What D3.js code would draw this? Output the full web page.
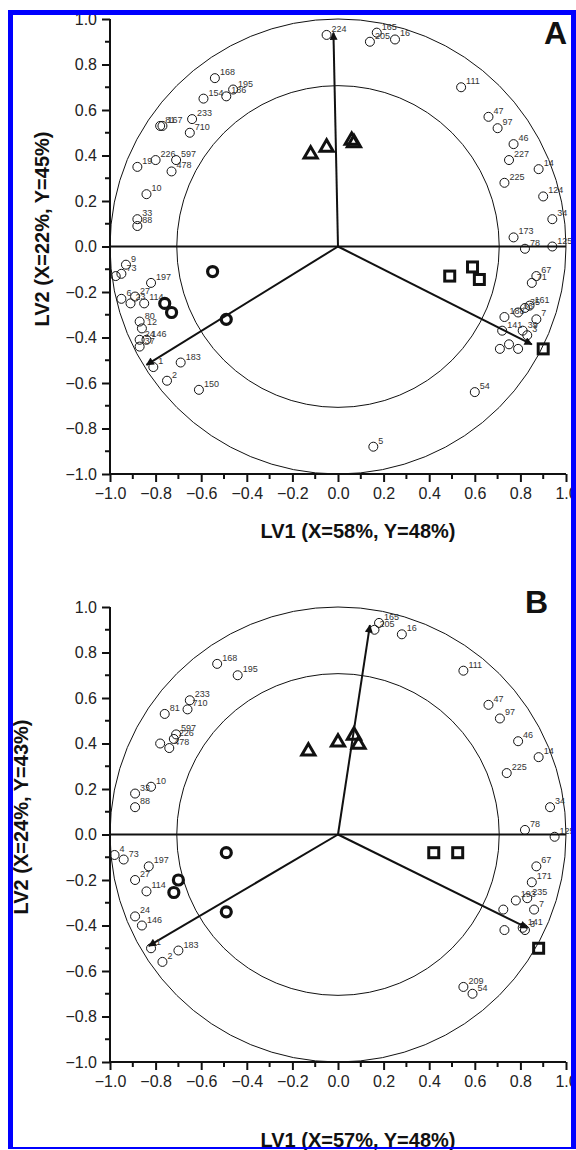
<!DOCTYPE html>
<html>
<head>
<meta charset="utf-8">
<script src="https://cdn.jsdelivr.net/npm/d3@7"></script>
<style>
  body { margin: 0; background: #fff; }
  svg { display: block; font-family: Arial, "Liberation Sans", sans-serif; }
</style>
</head>
<body>
<svg id="chart" width="576" height="1150"></svg>
<script>
// panel A : [label, LV1, LV2]
const openA = [
  ['168', -0.54, 0.74], ['195', -0.46, 0.69], ['186', -0.49, 0.66], ['154', -0.59, 0.65],
  ['81', -0.78, 0.53], ['167', -0.77, 0.53], ['233', -0.64, 0.56], ['710', -0.65, 0.50],
  ['19', -0.88, 0.35], ['226', -0.80, 0.38], ['597', -0.71, 0.38], ['478', -0.73, 0.33],
  ['10', -0.84, 0.23], ['33', -0.88, 0.12], ['88', -0.88, 0.09],
  ['224', -0.05, 0.93], ['165', 0.17, 0.94], ['205', 0.14, 0.90], ['16', 0.25, 0.91],
  ['111', 0.54, 0.70], ['47', 0.66, 0.57], ['97', 0.70, 0.52], ['46', 0.77, 0.45],
  ['227', 0.75, 0.38], ['14', 0.88, 0.34], ['225', 0.73, 0.28], ['124', 0.90, 0.22],
  ['34', 0.94, 0.12], ['173', 0.77, 0.04], ['78', 0.82, -0.01], ['125', 0.94, 0.00],
  ['9', -0.93, -0.08], ['73', -0.95, -0.12], ['', -0.975, -0.13], ['197', -0.82, -0.16],
  ['6', -0.95, -0.23], ['27', -0.89, -0.22], ['23', -0.91, -0.25], ['114', -0.85, -0.25],
  ['80', -0.87, -0.33], ['12', -0.86, -0.36], ['24', -0.87, -0.41], ['146', -0.84, -0.41],
  ['37', -0.87, -0.44], ['1', -0.81, -0.53], ['183', -0.69, -0.51], ['2', -0.75, -0.59],
  ['150', -0.61, -0.63],
  ['67', 0.87, -0.13], ['71', 0.85, -0.16], ['188', 0.73, -0.31], ['36', 0.79, -0.29],
  ['35', 0.82, -0.27], ['161', 0.84, -0.26], ['7', 0.87, -0.32], ['141', 0.72, -0.37],
  ['39', 0.81, -0.37], ['3', 0.83, -0.39], ['', 0.71, -0.45], ['', 0.75, -0.43],
  ['', 0.79, -0.45], ['54', 0.60, -0.64], ['5', 0.155, -0.88]
];
const boldA = [[-0.55, -0.11], [-0.76, -0.25], [-0.73, -0.29], [-0.49, -0.32]];
const triA = [[-0.12, 0.41], [-0.05, 0.44], [0.06, 0.47], [0.07, 0.46]];
const squareA = [[0.49, -0.13], [0.59, -0.09], [0.62, -0.145], [0.90, -0.45]];
const arrowsA = [[-0.02, 0.94], [-0.84, -0.52], [0.85, -0.43]];

// panel B
const openB = [
  ['168', -0.53, 0.75], ['195', -0.44, 0.70], ['233', -0.65, 0.59], ['710', -0.66, 0.55],
  ['81', -0.76, 0.53], ['597', -0.71, 0.44], ['226', -0.72, 0.42], ['478', -0.74, 0.38],
  ['', -0.78, 0.40], ['10', -0.82, 0.21], ['33', -0.89, 0.18], ['88', -0.89, 0.12],
  ['165', 0.18, 0.93], ['205', 0.16, 0.90], ['16', 0.28, 0.88], ['111', 0.55, 0.72],
  ['47', 0.66, 0.57], ['97', 0.71, 0.51], ['46', 0.79, 0.41], ['14', 0.88, 0.34],
  ['225', 0.74, 0.27], ['34', 0.93, 0.12], ['78', 0.82, 0.02], ['125', 0.95, -0.01],
  ['4', -0.98, -0.09], ['73', -0.94, -0.11], ['197', -0.83, -0.14], ['27', -0.89, -0.20],
  ['114', -0.84, -0.25], ['24', -0.89, -0.36], ['146', -0.86, -0.40], ['1', -0.82, -0.50],
  ['183', -0.70, -0.51], ['2', -0.77, -0.56],
  ['67', 0.87, -0.14], ['171', 0.85, -0.21], ['193', 0.78, -0.29], ['235', 0.83, -0.28],
  ['7', 0.86, -0.33], ['', 0.725, -0.33], ['141', 0.81, -0.41], ['3', 0.82, -0.42],
  ['', 0.73, -0.42], ['209', 0.55, -0.67], ['54', 0.59, -0.70]
];
const boldB = [[-0.49, -0.08], [-0.70, -0.20], [-0.72, -0.255], [-0.49, -0.34]];
const triB = [[-0.13, 0.37], [0.00, 0.41], [0.07, 0.44], [0.09, 0.40]];
const squareB = [[0.42, -0.08], [0.525, -0.08], [0.88, -0.50]];
const arrowsB = [[0.14, 0.92], [-0.83, -0.49], [0.83, -0.41]];

const ticks = [-1.0, -0.8, -0.6, -0.4, -0.2, 0.0, 0.2, 0.4, 0.6, 0.8, 1.0];
const minorTicks = [-0.9, -0.7, -0.5, -0.3, -0.1, 0.1, 0.3, 0.5, 0.7, 0.9];
const innerR = Math.SQRT1_2;

const svg = d3.select('#chart');

svg.append('defs').append('marker')
  .attr('id', 'head')
  .attr('viewBox', '0 0 10 10')
  .attr('refX', 9).attr('refY', 5)
  .attr('markerWidth', 6).attr('markerHeight', 4)
  .attr('markerUnits', 'strokeWidth')
  .attr('orient', 'auto')
  .append('path').attr('d', 'M0,0 L10,5 L0,10 z').attr('fill', '#111');

function drawPanel(p) {
  const x = d3.scaleLinear().domain([-1, 1]).range([110, 566]);
  const y = d3.scaleLinear().domain([-1, 1]).range([p.bottom, p.bottom - 455]);
  const g = svg.append('g');

  // circles r=1 and r=sqrt(.5)
  [1, innerR].forEach(r => {
    g.append('ellipse')
      .attr('cx', x(0)).attr('cy', y(0))
      .attr('rx', x(r) - x(0)).attr('ry', y(0) - y(r))
      .attr('fill', 'none').attr('stroke', '#111').attr('stroke-width', 1);
  });

  // zero line
  g.append('line')
    .attr('x1', x(-1)).attr('x2', x(1)).attr('y1', y(0)).attr('y2', y(0))
    .attr('stroke', '#111').attr('stroke-width', 2);

  // axes
  const xAxis = g.append('g').attr('transform', `translate(0,${y(-1)})`)
    .call(d3.axisBottom(x).tickValues(ticks).tickSize(8).tickPadding(6).tickFormat(d3.format('.1f')));
  xAxis.append('g').selectAll('line').data(minorTicks).join('line')
    .attr('x1', d => x(d)).attr('x2', d => x(d)).attr('y1', 0).attr('y2', 5)
    .attr('stroke', '#111').attr('stroke-width', 2);
  const yAxis = g.append('g').attr('transform', `translate(${x(-1)},0)`)
    .call(d3.axisLeft(y).tickValues(ticks).tickSize(8).tickPadding(5).tickFormat(d3.format('.1f')));
  yAxis.append('g').selectAll('line').data(minorTicks).join('line')
    .attr('x1', 0).attr('x2', -5).attr('y1', d => y(d)).attr('y2', d => y(d))
    .attr('stroke', '#111').attr('stroke-width', 2);
  [xAxis, yAxis].forEach(a => {
    a.select('.domain').attr('stroke', '#111').attr('stroke-width', 2);
    a.selectAll('.tick line').attr('stroke', '#111').attr('stroke-width', 2);
    a.selectAll('.tick text').attr('font-size', 16).attr('fill', '#222')
      .attr('font-family', 'Arial, "Liberation Sans", sans-serif');
  });
  xAxis.select('.domain').attr('d', `M${x(-1)},0H${x(1)}`);
  yAxis.select('.domain').attr('d', `M0,${y(-1)}V${y(1)}`);

  // loading arrows
  g.append('g').selectAll('line').data(p.arrows).join('line')
    .attr('x1', x(0)).attr('y1', y(0))
    .attr('x2', d => x(d[0])).attr('y2', d => y(d[1]))
    .attr('stroke', '#111').attr('stroke-width', 2)
    .attr('marker-end', 'url(#head)');

  // open circles + labels
  const pts = g.append('g');
  pts.selectAll('circle').data(p.open).join('circle')
    .attr('cx', d => x(d[1])).attr('cy', d => y(d[2])).attr('r', 4.5)
    .attr('fill', 'none').attr('stroke', '#111').attr('stroke-width', 1);
  pts.selectAll('text').data(p.open).join('text')
    .attr('x', d => x(d[1]) + 5).attr('y', d => y(d[2]) - 3)
    .attr('font-size', 9).attr('fill', '#333').text(d => d[0]);

  // bold circles
  g.append('g').selectAll('circle').data(p.bold).join('circle')
    .attr('cx', d => x(d[0])).attr('cy', d => y(d[1])).attr('r', 5)
    .attr('fill', 'none').attr('stroke', '#111').attr('stroke-width', 3.2);

  // triangles
  const tri = d3.symbol().type(d3.symbolTriangle).size(75);
  g.append('g').selectAll('path').data(p.tri).join('path')
    .attr('d', tri).attr('transform', d => `translate(${x(d[0])},${y(d[1]) + 1})`)
    .attr('fill', 'none').attr('stroke', '#111').attr('stroke-width', 3)
    .attr('stroke-linejoin', 'miter');

  // squares
  g.append('g').selectAll('rect').data(p.square).join('rect')
    .attr('x', d => x(d[0]) - 5).attr('y', d => y(d[1]) - 5)
    .attr('width', 10).attr('height', 10)
    .attr('fill', 'none').attr('stroke', '#111').attr('stroke-width', 3);

  // titles
  g.append('text')
    .attr('x', 358).attr('y', p.xTitleY)
    .attr('text-anchor', 'middle').attr('font-size', 20).attr('font-weight', 'bold')
    .attr('fill', '#111').text(p.xTitle);
  g.append('text')
    .attr('transform', `translate(${p.yTitleX},${p.yTitleCy}) rotate(-90)`)
    .attr('text-anchor', 'middle').attr('font-size', 20).attr('font-weight', 'bold')
    .attr('fill', '#111').text(p.yTitle);
  g.append('text')
    .attr('x', p.letterX).attr('y', p.letterY)
    .attr('font-size', 32).attr('font-weight', 'bold').attr('fill', '#111')
    .text(p.letter);
}

drawPanel({
  bottom: 474, open: openA, bold: boldA, tri: triA, square: squareA, arrows: arrowsA,
  xTitle: 'LV1 (X=58%, Y=48%)', xTitleY: 538,
  yTitle: 'LV2 (X=22%, Y=45%)', yTitleX: 49, yTitleCy: 229,
  letter: 'A', letterX: 544, letterY: 44
});
drawPanel({
  bottom: 1062, open: openB, bold: boldB, tri: triB, square: squareB, arrows: arrowsB,
  xTitle: 'LV1 (X=57%, Y=48%)', xTitleY: 1147,
  yTitle: 'LV2 (X=24%, Y=43%)', yTitleX: 28, yTitleCy: 817,
  letter: 'B', letterX: 525, letterY: 613
});

// blue frame
const frame = svg.append('g').attr('stroke', '#0000ff').attr('fill', 'none');
frame.append('line').attr('x1', 10.5).attr('x2', 10.5).attr('y1', 10).attr('y2', 1149).attr('stroke-width', 5);
frame.append('line').attr('x1', 8).attr('x2', 576).attr('y1', 12.5).attr('y2', 12.5).attr('stroke-width', 5);
frame.append('line').attr('x1', 573.5).attr('x2', 573.5).attr('y1', 10).attr('y2', 1149).attr('stroke-width', 5);
frame.append('line').attr('x1', 8).attr('x2', 576).attr('y1', 1148).attr('y2', 1148).attr('stroke-width', 2);
</script>
</body>
</html>
